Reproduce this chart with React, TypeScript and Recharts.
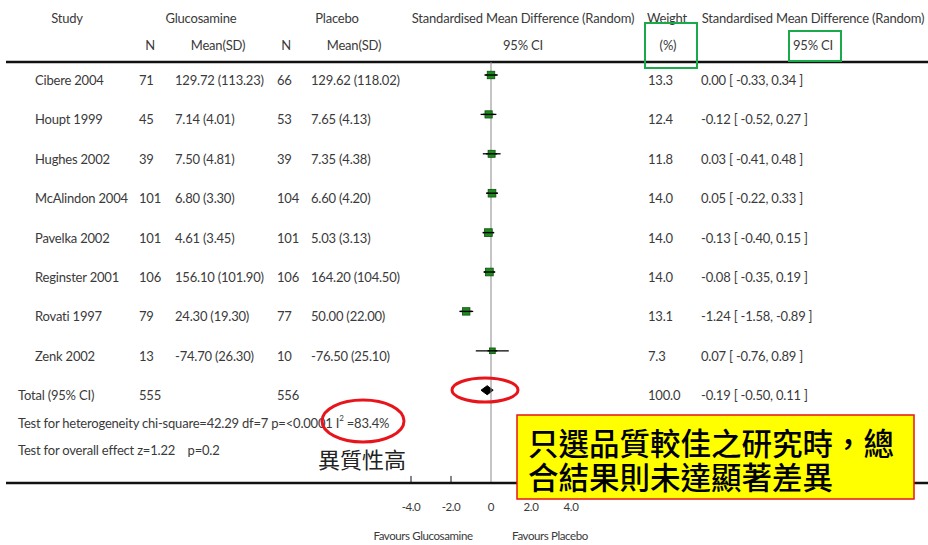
import React from 'react';
import { ComposedChart, XAxis, YAxis, Scatter, ErrorBar, Area, ReferenceLine } from 'recharts';

// ---------- data ----------
const studies = ['Cibere 2004', 'Houpt 1999', 'Hughes 2002', 'McAlindon 2004', 'Pavelka 2002', 'Reginster 2001', 'Rovati 1997', 'Zenk 2002'];
const glucoN = [71, 45, 39, 101, 101, 106, 79, 13];
const glucoMean = [129.72, 7.14, 7.5, 6.8, 4.61, 156.1, 24.3, -74.7];
const glucoSD = [113.23, 4.01, 4.81, 3.3, 3.45, 101.9, 19.3, 26.3];
const placeboN = [66, 53, 39, 104, 101, 106, 77, 10];
const placeboMean = [129.62, 7.65, 7.35, 6.6, 5.03, 164.2, 50.0, -76.5];
const placeboSD = [118.02, 4.13, 4.38, 4.2, 3.13, 104.5, 22.0, 25.1];
const weights = [13.3, 12.4, 11.8, 14.0, 14.0, 14.0, 13.1, 7.3];
const smd = [0.0, -0.12, 0.03, 0.05, -0.13, -0.08, -1.24, 0.07];
const ciLow = [-0.33, -0.52, -0.41, -0.22, -0.4, -0.35, -1.58, -0.76];
const ciHigh = [0.34, 0.27, 0.48, 0.33, 0.15, 0.19, -0.89, 0.89];

const totalLabel = 'Total (95% CI)';
const totalGlucoN = 555;
const totalPlaceboN = 556;
const totalWeight = 100.0;
const totalSmd = -0.19;
const totalLow = -0.5;
const totalHigh = 0.11;

const axisTicks = [-4, -2, 0, 2, 4];
const tickLabels = ['-4.0', '-2.0', '0', '2.0', '4.0'];

// ---------- layout / style constants ----------
const W = 928;
const H = 545;
const X_DOMAIN: [number, number] = [-24.25, 21.85];
const Y_DOMAIN: [number, number] = [-0.33, 10.355];
const FONT = "Lato, 'Open Sans', sans-serif";
const TXT = '#3a3a3a';
const FS = 13;
const LS = -0.2;
const COL = { study: 35, total: 18, gN: 139, gMean: 175, pN: 277, pMean: 311, weight: 648, ci: 701 };
const DIAMOND_HALF_H = 0.115;
const TICK_LEN = 0.18;

const f2 = (v: number) => v.toFixed(2);

const studyData = studies.map((name, i) => ({
  x: smd[i],
  y: i,
  err: [smd[i] - ciLow[i], ciHigh[i] - smd[i]],
  i,
}));
const totalData = [{ x: totalSmd, y: studies.length }];
const diamondData = [
  { x: totalLow, r: [studies.length, studies.length] },
  { x: totalSmd, r: [studies.length - DIAMOND_HALF_H, studies.length + DIAMOND_HALF_H] },
  { x: totalHigh, r: [studies.length, studies.length] },
];

const T = (p: { x: number; y: number; children: React.ReactNode; anchor?: string; size?: number; fill?: string; ls?: number }) => (
  <text
    x={p.x}
    y={p.y}
    textAnchor={(p.anchor as any) || 'start'}
    dominantBaseline="central"
    fontFamily={FONT}
    fontSize={p.size || FS}
    letterSpacing={p.ls !== undefined ? p.ls : LS}
    fill={p.fill || TXT}
  >
    {p.children}
  </text>
);

const StudyShape = (props: any) => {
  const { cx, cy, payload } = props;
  const i = payload.i;
  const side = 3.5 + weights[i] * 0.3;
  const ty = cy + 5;
  return (
    <g>
      <rect x={cx - side / 2} y={cy - side / 2} width={side} height={side} fill="#1c8a1c" stroke="#0d4f0d" strokeWidth={0.8} />
      <line x1={cx - side / 2 - 2} x2={cx + side / 2 + 2} y1={cy} y2={cy} stroke="#000" strokeWidth={1.4} />
      <T x={COL.study} y={ty}>{studies[i]}</T>
      <T x={COL.gN} y={ty}>{glucoN[i]}</T>
      <T x={COL.gMean} y={ty}>{`${f2(glucoMean[i])} (${f2(glucoSD[i])})`}</T>
      <T x={COL.pN} y={ty}>{placeboN[i]}</T>
      <T x={COL.pMean} y={ty}>{`${f2(placeboMean[i])} (${f2(placeboSD[i])})`}</T>
      <T x={COL.weight} y={ty}>{weights[i].toFixed(1)}</T>
      <T x={COL.ci} y={ty}>{`${f2(smd[i])} [ ${f2(ciLow[i])}, ${f2(ciHigh[i])} ]`}</T>
    </g>
  );
};

const TotalShape = (props: any) => {
  const { cy } = props;
  const ty = cy + 5;
  return (
    <g>
      <T x={COL.total} y={ty}>{totalLabel}</T>
      <T x={COL.gN} y={ty}>{totalGlucoN}</T>
      <T x={COL.pN} y={ty}>{totalPlaceboN}</T>
      <T x={COL.weight} y={ty}>{totalWeight.toFixed(1)}</T>
      <T x={COL.ci} y={ty}>{`${f2(totalSmd)} [ ${f2(totalLow)}, ${f2(totalHigh)} ]`}</T>
    </g>
  );
};

const Overlay = () => (
  <svg width={W} height={H} style={{ position: 'absolute', left: 0, top: 0, pointerEvents: 'none' }}>
    {/* headers */}
    <T x={67} y={18} anchor="middle">Study</T>
    <T x={201} y={18} anchor="middle">Glucosamine</T>
    <T x={337} y={18} anchor="middle">Placebo</T>
    <T x={523} y={18} anchor="middle">Standardised Mean Difference (Random)</T>
    <T x={667} y={18} anchor="middle">Weight</T>
    <T x={813} y={18} anchor="middle">Standardised Mean Difference (Random)</T>
    <T x={150} y={45} anchor="middle">N</T>
    <T x={218} y={45} anchor="middle">Mean(SD)</T>
    <T x={286} y={45} anchor="middle">N</T>
    <T x={354} y={45} anchor="middle">Mean(SD)</T>
    <T x={523} y={45} anchor="middle">95% CI</T>
    <T x={668} y={45} anchor="middle">(%)</T>
    <T x={813} y={45} anchor="middle">95% CI</T>

    {/* footer text */}
    <text x={18} y={423} dominantBaseline="central" fontFamily={FONT} fontSize={FS} letterSpacing={LS} fill={TXT}>
      Test for heterogeneity chi-square=42.29 df=7 p=&lt;0.0001 I
      <tspan fontSize={8} dy={-5}>2</tspan>
      <tspan dy={5}> =83.4%</tspan>
    </text>
    <T x={18} y={450}>Test for overall effect z=1.22{'\u00a0\u00a0\u00a0\u00a0'}p=0.2</T>
    <T x={423} y={535} anchor="middle" size={11.5} ls={-0.4}>Favours Glucosamine</T>
    <T x={550} y={535} anchor="middle" size={11.5} ls={-0.4}>Favours Placebo</T>

    {/* green boxes */}
    <rect x={645} y={23} width={52} height={45} fill="none" stroke="#1aaa4a" strokeWidth={2} />
    <rect x={789} y={31} width={52} height={30} fill="none" stroke="#1aaa4a" strokeWidth={2} />

    {/* red ellipses */}
    <ellipse cx={485} cy={390} rx={33} ry={12} fill="none" stroke="#e8141c" strokeWidth={3} />
    <ellipse cx={363} cy={421} rx={41} ry={21} fill="none" stroke="#e8141c" strokeWidth={3} />

    <text x={318} y={458} dominantBaseline="central" fontFamily="'Noto Sans CJK TC', sans-serif" fontSize={22} fill="#222">
      異質性高
    </text>

    {/* yellow annotation */}
    <rect x={517} y={415} width={397} height={84} fill="#ffff00" stroke="#e8141c" strokeWidth={1.5} />
    <text x={528} y={442} dominantBaseline="central" fontFamily="'Noto Sans CJK TC', sans-serif" fontWeight={500} fontSize={30.5} fill="#000">
      只選品質較佳之研究時，總
    </text>
    <text x={528} y={476} dominantBaseline="central" fontFamily="'Noto Sans CJK TC', sans-serif" fontWeight={500} fontSize={30.5} fill="#000">
      合結果則未達顯著差異
    </text>
  </svg>
);

export default function App() {
  return (
    <div style={{ position: 'absolute', left: 0, top: 0, width: W, height: H, background: '#fff' }}>
      <ComposedChart width={W} height={H} margin={{ top: 62, right: 0, bottom: 32, left: 6 }}>
        <XAxis
          type="number"
          dataKey="x"
          domain={X_DOMAIN}
          allowDataOverflow
          ticks={axisTicks}
          tickFormatter={(v: number) => tickLabels[axisTicks.indexOf(v)]}
          tickLine={false}
          tickSize={0}
          tickMargin={20}
          height={30}
          axisLine={{ stroke: '#111', strokeWidth: 2.5 }}
          tick={{ fontSize: 11.5, fill: TXT, fontFamily: FONT, letterSpacing: -0.4 }}
          interval={0}
        />
        <YAxis type="number" dataKey="y" domain={Y_DOMAIN} reversed hide allowDataOverflow />
        <ReferenceLine y={Y_DOMAIN[0]} stroke="#111" strokeWidth={2.5} />
        <ReferenceLine x={0} stroke="#8a8a8a" strokeWidth={1} />
        {axisTicks.filter((t) => t !== 0).map((t) => (
          <ReferenceLine
            key={t}
            segment={[{ x: t, y: Y_DOMAIN[1] - TICK_LEN }, { x: t, y: Y_DOMAIN[1] }]}
            stroke="#111"
            strokeWidth={1}
          />
        ))}
        <Area
          data={diamondData}
          dataKey="r"
          type="linear"
          fill="#000"
          fillOpacity={1}
          stroke="#000"
          strokeWidth={1}
          dot={false}
          activeDot={false}
          isAnimationActive={false}
        />
        <Scatter data={studyData} shape={<StudyShape />} isAnimationActive={false}>
          <ErrorBar dataKey="err" direction="x" width={0} stroke="#000" strokeWidth={1.3} />
        </Scatter>
        <Scatter data={totalData} shape={<TotalShape />} isAnimationActive={false} />
      </ComposedChart>
      <Overlay />
    </div>
  );
}
